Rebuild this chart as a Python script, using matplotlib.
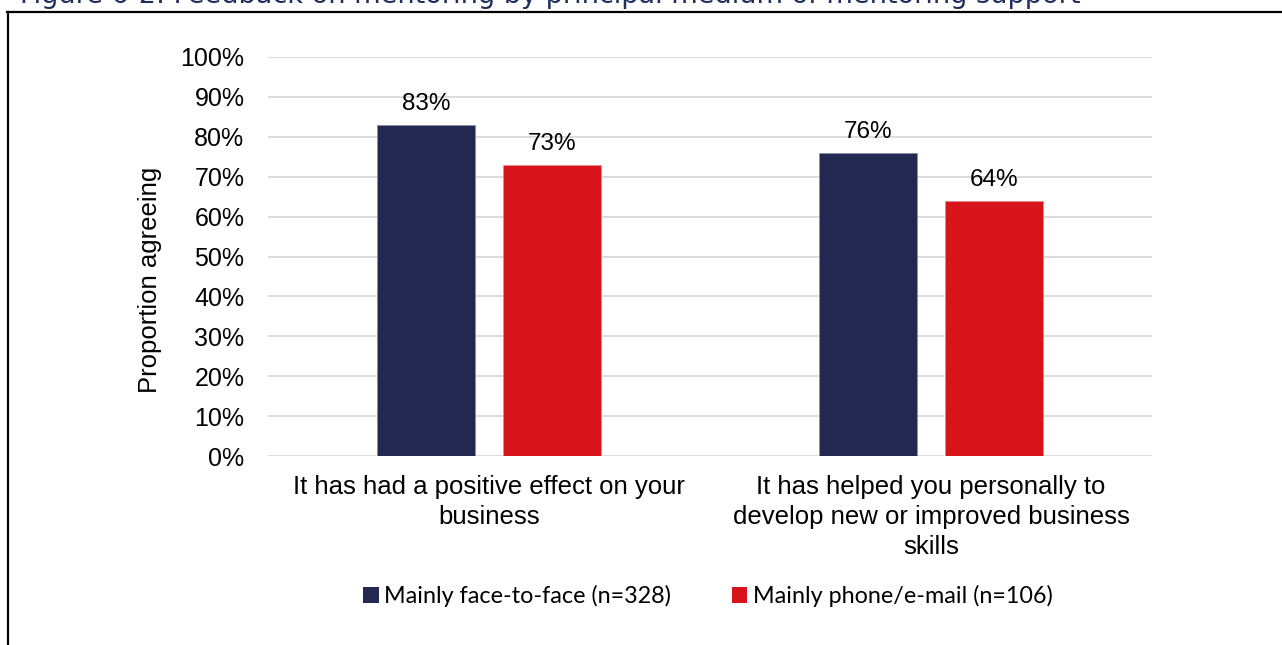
import matplotlib.pyplot as plt
from matplotlib.patches import Patch
import numpy as np

categories = ["It has had a positive effect on your\nbusiness",
              "It has helped you personally to\ndevelop new or improved business\nskills"]
face_to_face = [0.83, 0.76]
phone_email = [0.73, 0.64]
series_names = ["Mainly face-to-face (n=328)", "Mainly phone/e-mail (n=106)"]
colors = ["#222850", "#D7141A"]
title = "Figure 6-2: Feedback on mentoring by principal medium of mentoring support"

plt.rcParams['font.family'] = ['Liberation Sans', 'DejaVu Sans']

fig = plt.figure(figsize=(12.82, 6.45), dpi=100)
ax = fig.add_axes([268 / 1282, 1 - 456 / 645, 884 / 1282, 399 / 645])

x = np.arange(len(categories))
w = 0.223
off = 0.1425
b1 = ax.bar(x - off, face_to_face, w, color=colors[0], edgecolor="#8a8fa8", linewidth=0.6, zorder=3)
b2 = ax.bar(x + off, phone_email, w, color=colors[1], edgecolor="#e88a8d", linewidth=0.6, zorder=3)

for bars, vals in ((b1, face_to_face), (b2, phone_email)):
    for r, v in zip(bars, vals):
        ax.annotate(f"{v:.0%}", (r.get_x() + r.get_width() / 2, v), xytext=(0, 7),
                    textcoords="offset points", ha="center", va="bottom", fontsize=17.5)

ax.set_xlim(-0.5, 1.5)
ax.set_ylim(0, 1)
ax.set_yticks(np.arange(0, 1.01, 0.1))
ax.set_yticklabels([f"{t:.0%}" for t in np.arange(0, 1.01, 0.1)], fontsize=18)
ax.set_xticks(x)
ax.set_xticklabels(categories, fontsize=18.5, linespacing=1.3)
ax.tick_params(axis="both", length=0)
ax.tick_params(axis="y", pad=17)
ax.tick_params(axis="x", pad=14)
ax.grid(axis="y", color="#D9D9D9", linewidth=1.3, zorder=0)
for s in ax.spines.values():
    s.set_visible(False)

fig.text(150 / 1282, 1 - 280 / 645, "Proportion agreeing", rotation=90, fontsize=18.5,
         ha="center", va="center")

handles = [Patch(facecolor=c, edgecolor="none") for c in colors]
fig.legend(handles, series_names, loc="center", bbox_to_anchor=(708 / 1282, 1 - 596 / 645),
           ncol=2, frameon=False, prop={"family": "Lato", "size": 16.8},
           handlelength=0.65, handleheight=0.65, handletextpad=0.25, columnspacing=2.6)

# cut-off caption at the top
fig.text(20 / 1282, 1 - 3 / 645, title, fontsize=19.5, color="#1F2D5C",
         family="DejaVu Sans", ha="left", va="baseline")

# frame around the chart
fig.add_artist(plt.Line2D([8 / 1282, 8 / 1282], [0, 1 - 12 / 645], color="black", lw=1.6))
fig.add_artist(plt.Line2D([7 / 1282, 1], [1 - 12 / 645, 1 - 12 / 645], color="black", lw=1.6))

fig.savefig("out.png", dpi=100)
